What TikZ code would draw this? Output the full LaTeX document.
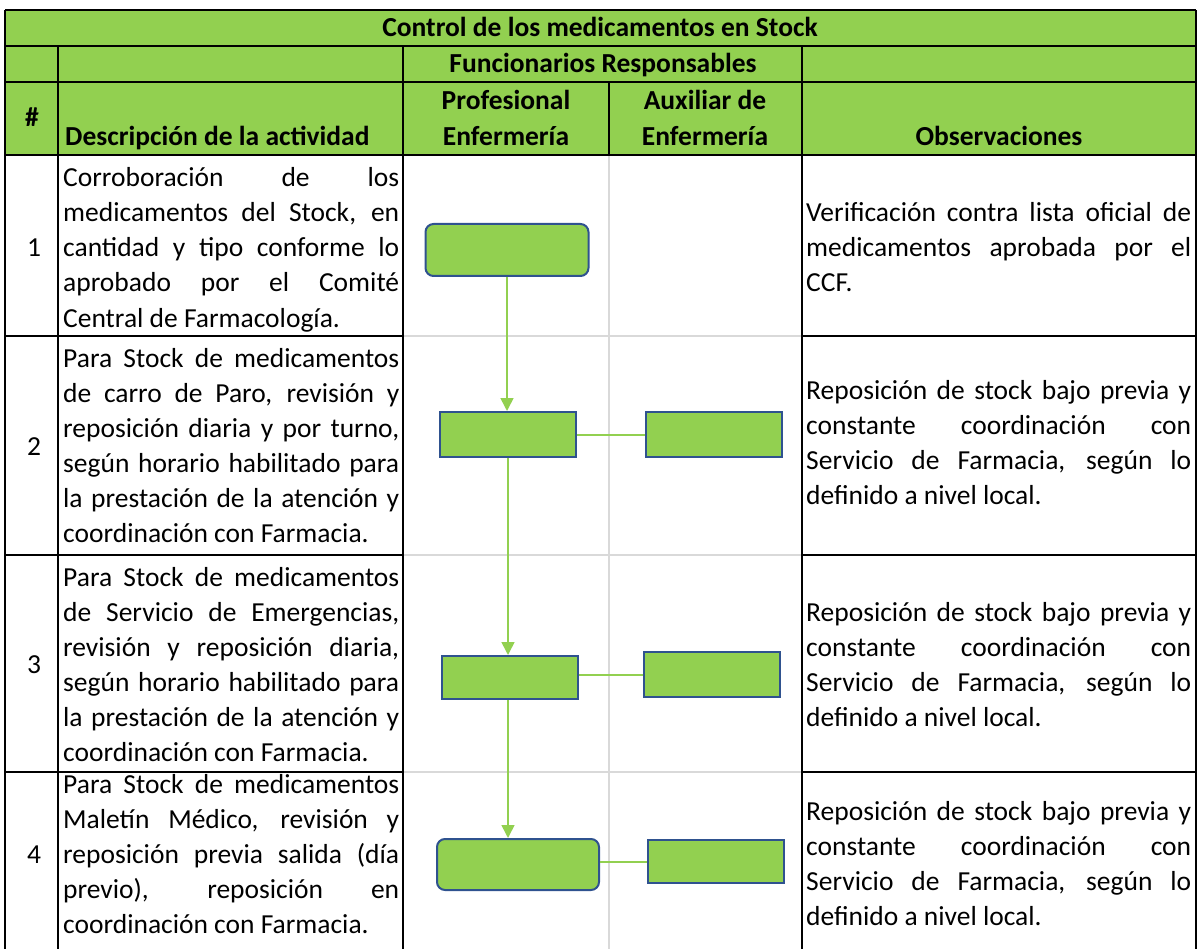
\documentclass[tikz,border=0pt]{standalone}
\usepackage{fontspec}
\setmainfont{Carlito}
\usetikzlibrary{arrows.meta}
\definecolor{xlgreen}{HTML}{92D050}
\definecolor{boxblue}{HTML}{2F528F}
\definecolor{gridgray}{HTML}{D9D9D9}
\newcommand{\bodyfont}{\fontsize{27.5}{35}\selectfont}
\newcommand{\headfont}{\fontsize{27.5}{35}\selectfont\bfseries}
\newcommand{\jdesc}[1]{\makebox[336pt][s]{#1}}
\newcommand{\jobs}[1]{\makebox[385pt][s]{#1}}
\begin{document}
\begin{tikzpicture}[x=1pt,y=-1pt,
  tblborder/.style={line width=2.2pt, black},
  gridline/.style={line width=2pt, gridgray},
  txt/.style={inner sep=0pt, anchor=base west, font=\bodyfont},
  num/.style={inner sep=0pt, anchor=base, font=\bodyfont},
  head/.style={inner sep=0pt, anchor=base, font=\headfont},
  procbox/.style={draw=boxblue, fill=xlgreen, line width=2pt, minimum width=136pt, minimum height=44pt, inner sep=0pt},
  termbox/.style={procbox, rounded corners=8pt, minimum width=163pt, minimum height=52pt},
  flowarrow/.style={draw=xlgreen, line width=1.6pt, -{Triangle[width=13pt,length=13pt]}},
  hlink/.style={draw=xlgreen, line width=2pt},
]
\useasboundingbox (0,0) rectangle (1198,949);
\clip (0,0) rectangle (1198,949);
% header background
\fill[xlgreen] (5,10) rectangle (1196,155);
% gray grid lines in flow columns
\draw[gridline] (609,155) -- (609,960);
\foreach \yy in {336,555,772} \draw[gridline] (403,\yy) -- (802,\yy);
% black borders
\draw[tblborder] (5,10) -- (1196,10);
\draw[tblborder] (5,46) -- (1196,46);
\draw[tblborder] (5,82) -- (1196,82);
\draw[tblborder] (5,155) -- (1196,155);
\draw[tblborder] (5,10) -- (5,960);
\draw[tblborder] (1196,10) -- (1196,960);
\draw[tblborder] (58,46) -- (58,960);
\draw[tblborder] (403,46) -- (403,960);
\draw[tblborder] (802,46) -- (802,960);
\draw[tblborder] (609,82) -- (609,155);
\foreach \yy in {336,555,772} {
  \draw[tblborder] (5,\yy) -- (403,\yy);
  \draw[tblborder] (802,\yy) -- (1196,\yy);
}
% header texts
\node[head] (title) at (600,37) {Control de los medicamentos en Stock};
\node[head] (func) at (603,73) {Funcionarios Responsables};
\node[head] (hash) at (32,127) {\#};
\node[head, anchor=base west] (hdesc) at (65,146) {Descripción de la actividad};
\node[head] (hprof1) at (506,110) {Profesional};
\node[head] (hprof2) at (506,146) {Enfermería};
\node[head] (haux1) at (705,110) {Auxiliar de};
\node[head] (haux2) at (705,146) {Enfermería};
\node[head] (hobs) at (999,146) {Observaciones};
% row numbers
\node[num] (n1) at (34,257) {1};
\node[num] (n2) at (34,455) {2};
\node[num] (n3) at (34,673) {3};
\node[num] (n4) at (34,863) {4};
% descriptions
\node[txt] (d1a) at (63,187) {\jdesc{Corroboración de los}};
\node[txt] (d1b) at (63,222) {\jdesc{medicamentos del Stock, en}};
\node[txt] (d1c) at (63,257) {\jdesc{cantidad y tipo conforme lo}};
\node[txt] (d1d) at (63,292) {\jdesc{aprobado por el Comité}};
\node[txt] (d1e) at (63,327) {Central de Farmacología.};
\node[txt] (d2a) at (63,367) {\jdesc{Para Stock de medicamentos}};
\node[txt] (d2b) at (63,402) {\jdesc{de carro de Paro, revisión y}};
\node[txt] (d2c) at (63,437) {\jdesc{reposición diaria y por turno,}};
\node[txt] (d2d) at (63,472) {\jdesc{según horario habilitado para}};
\node[txt] (d2e) at (63,507) {\jdesc{la prestación de la atención y}};
\node[txt] (d2f) at (63,542) {coordinación con Farmacia.};
\node[txt] (d3a) at (63,586) {\jdesc{Para Stock de medicamentos}};
\node[txt] (d3b) at (63,621) {\jdesc{de Servicio de Emergencias,}};
\node[txt] (d3c) at (63,656) {\jdesc{revisión y reposición diaria,}};
\node[txt] (d3d) at (63,691) {\jdesc{según horario habilitado para}};
\node[txt] (d3e) at (63,726) {\jdesc{la prestación de la atención y}};
\node[txt] (d3f) at (63,761) {coordinación con Farmacia.};
\node[txt] (d4a) at (63,793) {\jdesc{Para Stock de medicamentos}};
\node[txt] (d4b) at (63,828) {\jdesc{Maletín Médico, revisión y}};
\node[txt] (d4c) at (63,863) {\jdesc{reposición previa salida (día}};
\node[txt] (d4d) at (63,898) {\jdesc{previo), reposición en}};
\node[txt] (d4e) at (63,933) {coordinación con Farmacia.};
% observations
\node[txt] (o1a) at (806,222) {\jobs{Verificación contra lista oficial de}};
\node[txt] (o1b) at (806,257) {\jobs{medicamentos aprobada por el}};
\node[txt] (o1c) at (806,292) {CCF.};
\foreach \nm/\yy in {o2/399,o3/621,o4/820} {
  \node[txt] (\nm a) at (806,\yy) {\jobs{Reposición de stock bajo previa y}};
  \node[txt] (\nm b) at (806,\yy+35) {\jobs{constante coordinación con}};
  \node[txt] (\nm c) at (806,\yy+70) {\jobs{Servicio de Farmacia, según lo}};
  \node[txt] (\nm d) at (806,\yy+105) {definido a nivel local.};
}
% flowchart
\node[termbox] (b1) at (507,250) {};
\node[procbox, minimum height=45pt] (b2l) at (508,434.5) {};
\node[procbox, minimum height=45pt] (b2r) at (714,434.5) {};
\node[procbox, minimum height=43pt] (b3l) at (510,677.5) {};
\node[procbox, minimum height=45pt] (b3r) at (711.5,674.5) {};
\node[termbox, minimum width=162pt, minimum height=51pt] (b4l) at (518,864.5) {};
\node[procbox, minimum height=43pt] (b4r) at (716,861.5) {};
\draw[hlink] (b2l.east) -- (b2r.west);
\draw[hlink] (b3l.east |- b3r.west) -- (b3r.west);
\draw[hlink] (b4l.east |- b4r.west) -- (b4r.west);
\draw[flowarrow] (b1.south) -- (b1.south |- b2l.north);
\draw[flowarrow] (b2l.south) -- (b2l.south |- b3l.north);
\draw[flowarrow] (b2l.south |- b3l.south) -- (b2l.south |- b4l.north);
\end{tikzpicture}
\end{document}
